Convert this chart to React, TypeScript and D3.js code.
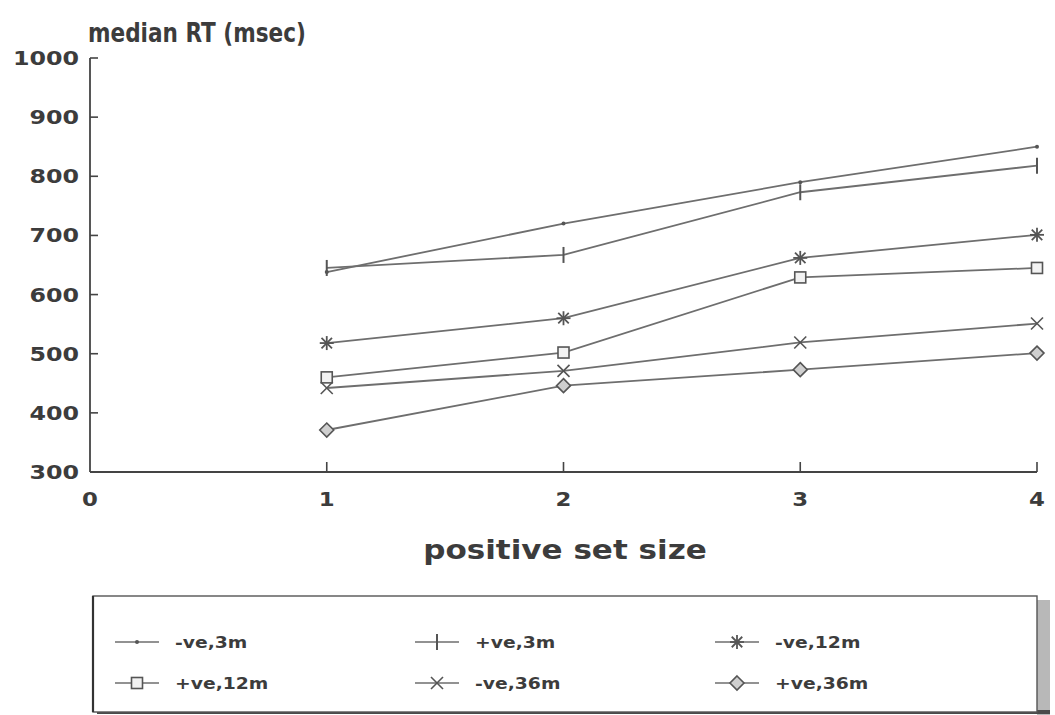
import React from "react";
import * as d3 from "d3";

// Positive set size (x) and median reaction times (msec) per condition
const setSizes = [1, 2, 3, 4];
const negVe3m = [638, 720, 790, 850];
const posVe3m = [645, 667, 773, 818];
const negVe12m = [518, 560, 662, 701];
const posVe12m = [460, 502, 629, 645];
const negVe36m = [442, 471, 519, 551];
const posVe36m = [371, 446, 473, 501];

const seriesNames = ["-ve,3m", "+ve,3m", "-ve,12m", "+ve,12m", "-ve,36m", "+ve,36m"];
const seriesValues = [negVe3m, posVe3m, negVe12m, posVe12m, negVe36m, posVe36m];
const markerKinds = ["dot", "bar", "star", "square", "cross", "diamond"];

const yTicks = [300, 400, 500, 600, 700, 800, 900, 1000];
const xTicks = [0, 1, 2, 3, 4];

const FONT = "'DejaVu Sans', Arial, sans-serif";
const INK = "#3c3c3c";
const LINE = "#6e6e6e";

function Label({ x, y, text, size, sx = 1, anchor = "start" }: any) {
  return (
    <text
      transform={`translate(${x},${y}) scale(${sx},1)`}
      textAnchor={anchor}
      fontFamily={FONT}
      fontWeight="bold"
      fontSize={size}
      fill={INK}
    >
      {text}
    </text>
  );
}

function Marker({ kind, cx, cy }: any) {
  const st = { stroke: "#555", strokeWidth: 1.6, fill: "none" };
  switch (kind) {
    case "dot":
      return <circle cx={cx} cy={cy} r={2} fill="#555" />;
    case "bar":
      return <line x1={cx} x2={cx} y1={cy - 8} y2={cy + 8} {...st} strokeWidth={2} />;
    case "star": {
      const r = 7;
      return (
        <g {...st} strokeWidth={1.8}>
          <line x1={cx - r} x2={cx + r} y1={cy} y2={cy} />
          <line x1={cx} x2={cx} y1={cy - r} y2={cy + r} />
          <line x1={cx - r * 0.75} x2={cx + r * 0.75} y1={cy - r * 0.75} y2={cy + r * 0.75} />
          <line x1={cx - r * 0.75} x2={cx + r * 0.75} y1={cy + r * 0.75} y2={cy - r * 0.75} />
        </g>
      );
    }
    case "square":
      return <rect x={cx - 5.5} y={cy - 5.5} width={11} height={11} {...st} fill="#f2f2f2" />;
    case "cross": {
      const r = 6;
      return (
        <g {...st}>
          <line x1={cx - r} x2={cx + r} y1={cy - r} y2={cy + r} />
          <line x1={cx - r} x2={cx + r} y1={cy + r} y2={cy - r} />
        </g>
      );
    }
    case "diamond": {
      const r = 7;
      return (
        <path
          d={`M${cx},${cy - r}L${cx + r},${cy}L${cx},${cy + r}L${cx - r},${cy}Z`}
          {...st}
          fill="#cfcfcf"
        />
      );
    }
    default:
      return null;
  }
}

export default function App() {
  const width = 1055;
  const height = 715;
  const x = d3.scaleLinear().domain([0, 4]).range([90, 1037]);
  const y = d3.scaleLinear().domain([300, 1000]).range([472, 58]);
  const line = d3
    .line<number>()
    .x((_, i) => x(setSizes[i]))
    .y((v) => y(v));

  // legend layout: 3 columns x 2 rows
  const legX = 93;
  const legY = 596;
  const legW = 944;
  const legH = 116;
  const colX = [115, 415, 715];
  const rowY = [642, 683];

  return (
    <svg
      width={width}
      height={height}
      style={{ position: "absolute", left: 0, top: 0, background: "#fff" }}
    >
      {/* title */}
      <Label x={88} y={42} text="median RT (msec)" size={27} sx={0.8} />

      {/* y axis */}
      <line x1={x(0)} x2={x(0)} y1={y(1000)} y2={y(300)} stroke="#444" strokeWidth={1.8} />
      {yTicks.map((t) => (
        <g key={t}>
          {t > 300 && (
            <line x1={x(0)} x2={x(0) + 8} y1={y(t)} y2={y(t)} stroke="#444" strokeWidth={1.6} />
          )}
          <Label x={79} y={y(t) + 7} text={String(t)} size={19} sx={1.25} anchor="end" />
        </g>
      ))}

      {/* x axis */}
      <line x1={x(0)} x2={x(4)} y1={y(300)} y2={y(300)} stroke="#444" strokeWidth={1.8} />
      {xTicks.map((t) => (
        <g key={t}>
          {t > 0 && (
            <line x1={x(t)} x2={x(t)} y1={y(300)} y2={y(300) - 10} stroke="#444" strokeWidth={1.6} />
          )}
          <Label x={x(t)} y={506} text={String(t)} size={19} sx={1.2} anchor="middle" />
        </g>
      ))}
      <Label x={565} y={559} text="positive set size" size={27} sx={1.15} anchor="middle" />

      {/* series */}
      {seriesValues.map((vals, si) => (
        <g key={seriesNames[si]}>
          <path d={line(vals) || ""} fill="none" stroke={LINE} strokeWidth={1.8} />
          {vals.map((v, i) => (
            <Marker key={i} kind={markerKinds[si]} cx={x(setSizes[i])} cy={y(v)} />
          ))}
        </g>
      ))}

      {/* legend box with drop shadow */}
      <rect x={legX + legW} y={legY + 4} width={13} height={legH} fill="#b8b8b8" />
      <rect x={legX + 4} y={legY + legH - 2} width={legW + 9} height={4} fill="#4a4a4a" />
      <rect x={legX} y={legY} width={legW} height={legH} fill="#fff" stroke="#555" strokeWidth={1.4} />
      <line x1={legX} x2={legX} y1={legY} y2={legY + legH} stroke="#333" strokeWidth={2.2} />
      {seriesNames.map((name, i) => {
        const cx0 = colX[i % 3];
        const cy0 = rowY[Math.floor(i / 3)];
        return (
          <g key={name}>
            <line x1={cx0} x2={cx0 + 44} y1={cy0} y2={cy0} stroke={LINE} strokeWidth={1.6} />
            <Marker kind={markerKinds[i]} cx={cx0 + 22} cy={cy0} />
            <Label x={cx0 + 60} y={cy0 + 6} text={name} size={15} sx={1.25} />
          </g>
        );
      })}
    </svg>
  );
}
